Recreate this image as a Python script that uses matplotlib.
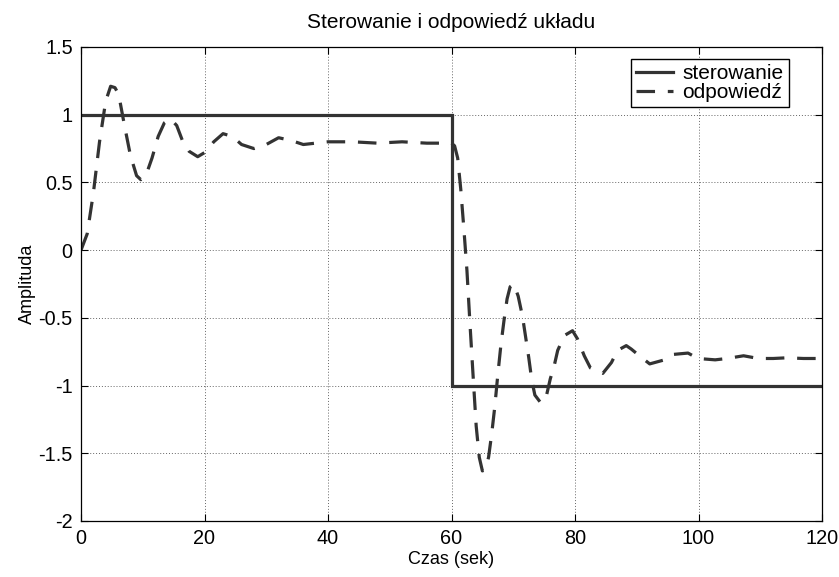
import matplotlib
matplotlib.use("Agg")
import matplotlib.pyplot as plt

# ---- data ----
t_step = [0, 60, 60, 120]
u_step = [1, 1, -1, -1]

t_resp = [0, 1.0, 2.0, 3.0, 4.0, 4.8, 5.5, 6.1, 7.0, 8.0, 9.0, 9.7, 10.5, 11.5,
          12.5, 13.5, 14.5, 15.5, 16.5, 17.5, 18.9, 20.0, 21.5, 23.0, 24.5,
          26.0, 28.0, 30.0, 32.0, 34.0, 36.0, 38.0, 40.0, 44.0, 48.0, 52.0,
          56.0, 60.0, 60.5, 61.0, 61.5, 62.0, 62.5, 63.0, 63.5, 64.0, 64.5,
          65.0, 65.5, 66.0, 66.5, 67.0, 67.5, 68.0, 68.5, 69.0, 69.5, 70.1,
          70.8, 71.5, 72.0, 72.5, 73.0, 73.5, 74.5, 75.4, 76.0, 76.6, 77.2,
          78.3, 79.6, 80.4, 81.5, 82.5, 84.5, 85.9, 86.9, 88.3, 89.1, 90.7,
          92.1, 94.5, 95.9, 98.3, 99.9, 102.7, 104.6, 107.3, 109.7, 112.1,
          114.3, 117.0, 120.0]
y_resp = [0, 0.12, 0.42, 0.80, 1.10, 1.21, 1.20, 1.15, 0.93, 0.70, 0.55, 0.52,
          0.55, 0.68, 0.84, 0.94, 0.97, 0.92, 0.80, 0.73, 0.69, 0.72, 0.80,
          0.86, 0.84, 0.78, 0.75, 0.78, 0.83, 0.81, 0.78, 0.79, 0.80, 0.80,
          0.79, 0.80, 0.79, 0.79, 0.77, 0.68, 0.45, 0.16, -0.15, -0.55, -0.93,
          -1.30, -1.53, -1.63, -1.62, -1.53, -1.36, -1.16, -0.92, -0.70, -0.52,
          -0.36, -0.27, -0.25, -0.34, -0.49, -0.64, -0.79, -0.96, -1.07, -1.13,
          -1.07, -0.95, -0.86, -0.74, -0.63, -0.595, -0.655, -0.78, -0.87,
          -0.91, -0.83, -0.74, -0.705, -0.73, -0.79, -0.84, -0.81, -0.77,
          -0.76, -0.80, -0.81, -0.80, -0.78, -0.80, -0.80, -0.795, -0.80, -0.80]

x_ticks = [0, 20, 40, 60, 80, 100, 120]
y_ticks = [-2, -1.5, -1, -0.5, 0, 0.5, 1, 1.5]
y_tick_labels = ["-2", "-1.5", "-1", "-0.5", "0", "0.5", "1", "1.5"]
x_tick_labels = ["0", "20", "40", "60", "80", "100", "120"]

title = "Sterowanie i odpowiedź układu"
xlabel = "Czas (sek)"
ylabel = "Amplituda"
labels = ["sterowanie", "odpowiedź"]

# ---- styling ----
plt.rcParams['font.family'] = ['Liberation Sans', 'DejaVu Sans']
line_color = '#333333'

fig = plt.figure(figsize=(8.39, 5.77), dpi=100)
ax = fig.add_axes([81 / 839, 1 - 521 / 577, 741 / 839, 474 / 577])

ax.plot(t_step, u_step, color=line_color, lw=2.3, label=labels[0],
        solid_joinstyle='miter')
ax.plot(t_resp, y_resp, color=line_color, lw=2.3, linestyle='--',
        dashes=(5.8, 4.0), label=labels[1])

ax.set_xlim(0, 120)
ax.set_ylim(-2, 1.5)
ax.set_xticks(x_ticks)
ax.set_xticklabels(x_tick_labels)
ax.set_yticks(y_ticks)
ax.set_yticklabels(y_tick_labels)

ax.grid(True, color='#666666', linestyle=(0, (1, 2)), linewidth=0.7)
ax.tick_params(direction='in', length=5, width=0.8, top=True, right=True,
               labelsize=14.3, pad=6, colors='black')
for s in ax.spines.values():
    s.set_linewidth(0.9)
    s.set_color('black')

ax.set_title(title, fontsize=15, pad=13.5)
ax.set_xlabel(xlabel, fontsize=13, labelpad=2)
ax.set_ylabel(ylabel, fontsize=13, labelpad=2)

leg = ax.legend(loc='upper right', bbox_to_anchor=(0.955, 0.975),
                borderaxespad=0, fontsize=15, labelspacing=0.0,
                handlelength=1.75, handletextpad=0.45, borderpad=0.25,
                fancybox=False, framealpha=1, edgecolor='black')
leg.get_frame().set_linewidth(1.0)

fig.savefig('out.png', dpi=100)
